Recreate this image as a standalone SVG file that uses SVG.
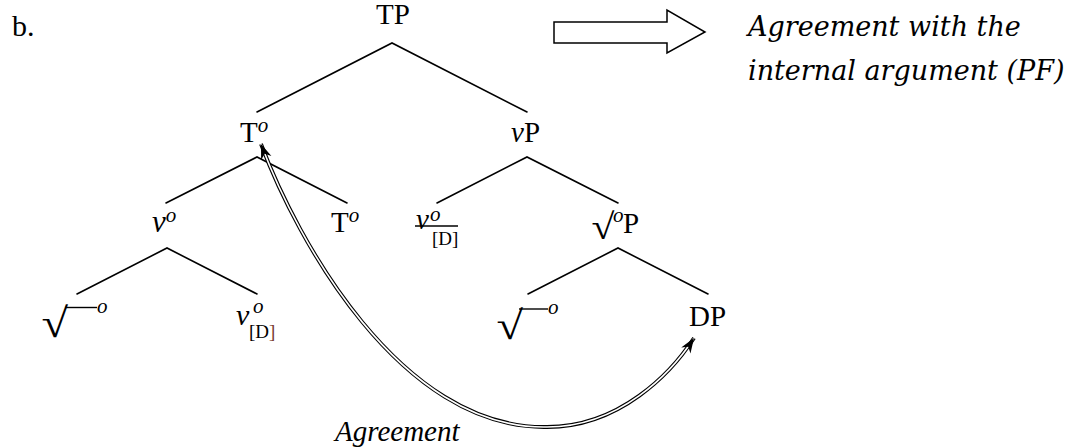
<svg xmlns="http://www.w3.org/2000/svg" width="1073" height="448" viewBox="0 0 1073 448">
<style>
  .t { font-family: "Liberation Serif", "Times New Roman", serif; fill: #000; }
  .lab { font-size: 29px; }
  .it { font-style: italic; }
  .sup { font-size: 21px; font-style: italic; }
  .sub { font-size: 19px; }
  .rad { font-size: 44px; }
  .note { font-family: "DejaVu Serif", serif; font-style: italic; font-size: 27px; fill: #000; }
  .edge { stroke: #000; stroke-width: 1.6; fill: none; stroke-linecap: round; }
  .vinc { stroke: #000; stroke-width: 1.4; fill: none; }
</style>
<defs>
  <marker id="ah" viewBox="-16 -7 18 14" refX="0" refY="0" markerWidth="18" markerHeight="14" markerUnits="userSpaceOnUse" orient="auto-start-reverse">
    <path d="M0,0 L-15,-5.5 L-10.5,0 L-15,5.5 Z" fill="#000"/>
  </marker>
</defs>
<rect width="1073" height="448" fill="#fff"/>

<text id="label-b" class="t" font-size="30" x="12" y="36">b.</text>

<g id="edges">
  <path class="edge" d="M257,112 L392,43 L527,112"/>
  <path class="edge" d="M166,203 L257,157 L347,203"/>
  <path class="edge" d="M437,203 L527,157 L618,203"/>
  <path class="edge" d="M77,294 L167,248 L257,294"/>
  <path class="edge" d="M528,294 L618,248 L708,294"/>
</g>

<g id="node-TP"><text class="t lab" x="376" y="24">TP</text></g>
<g id="node-T1"><text class="t lab" x="240" y="142">T<tspan class="sup" dy="-10">o</tspan></text></g>
<g id="node-vP"><text class="t lab" x="511" y="142"><tspan class="it">v</tspan>P</text></g>
<g id="node-v1"><text class="t it" font-size="31" x="152" y="232">v<tspan class="sup" dy="-10">o</tspan></text></g>
<g id="node-T2"><text class="t lab" x="331" y="232">T<tspan class="sup" dy="-10">o</tspan></text></g>
<g id="node-vD-struck">
  <text class="t lab it" x="416" y="229">v</text>
  <text class="t sup" x="430" y="221">o</text>
  <text class="t sub" x="432" y="245">[D]</text>
  <line x1="415" y1="226" x2="458" y2="226" stroke="#000" stroke-width="1.3"/>
</g>
<g id="node-rootP">
  <text class="t rad" transform="translate(591.5,239) scale(0.95,0.82)">√</text>
  <text class="t sup" x="613" y="222">o</text>
  <text class="t lab" x="623" y="233">P</text>
</g>
<g id="node-root1">
  <text class="t rad" transform="translate(41.5,337) scale(1.1,0.94)">√</text>
  <line class="vinc" x1="65" y1="307.5" x2="97" y2="307.5"/>
  <text class="t sup" x="97" y="313">o</text>
</g>
<g id="node-vD">
  <text class="t it" font-size="30" x="236" y="325">v</text>
  <text class="t sup" x="253" y="313">o</text>
  <text class="t sub" x="249" y="338">[D<tspan fill="#7a3b2e">]</tspan></text>
</g>
<g id="node-root2">
  <text class="t rad" transform="translate(496.5,338.5) scale(1.1,0.91)">√</text>
  <line class="vinc" x1="519" y1="309" x2="548" y2="309"/>
  <text class="t sup" x="548" y="314">o</text>
</g>
<g id="node-DP"><text class="t lab" x="689" y="326">DP</text></g>

<g id="connectors">
  <path d="M554,22 L667,22 L667,10 L705,32 L667,53 L667,43 L554,43 Z" fill="#fff" stroke="#000" stroke-width="1.5" stroke-linejoin="miter"/>
  <path d="M261,144 C297,240 400,428 545,427 C620,428 672,372 694,338" fill="none" stroke="#000" stroke-width="3.8"/>
  <path d="M261,144 C297,240 400,428 545,427 C620,428 672,372 694,338" fill="none" stroke="#fff" stroke-width="1.6"/>
  <path d="M261,144 C297,240 400,428 545,427 C620,428 672,372 694,338" fill="none" stroke="none" marker-start="url(#ah)" marker-end="url(#ah)"/>
</g>

<g id="notes">
  <text class="note" x="748" y="36">Agreement with the</text>
  <text class="note" x="748" y="80">internal argument (PF)</text>
  <text class="t it" x="335" y="441" font-size="29">Agreement</text>
</g>
</svg>
